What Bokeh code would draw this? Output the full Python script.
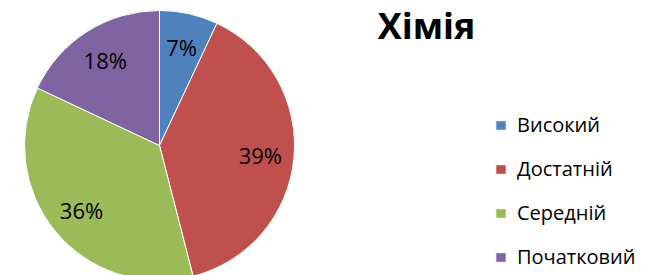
import math
from bokeh.plotting import figure
from bokeh.models import Range1d, Legend, LegendItem, ColumnDataSource
from bokeh.core.properties import value
from bokeh.embed import file_html
from bokeh.resources import INLINE

title = "Хімія"
categories = ["Високий", "Достатній", "Середній", "Початковий"]
values = [7, 39, 36, 18]
colors = ["#4F81BD", "#C0504D", "#9BBB59", "#8064A2"]

W, H = 656, 275
p = figure(width=W, height=H, output_backend="svg", toolbar_location=None,
           x_range=Range1d(0, W), y_range=Range1d(0, H), min_border=0)
p.axis.visible = False
p.grid.visible = False
p.outline_line_color = None

cx, cy, r = 159, 130, 135
total = sum(values)
starts, ends, lx, ly, labels = [], [], [], [], []
cum = 0.0
for v in values:
    a0 = math.pi / 2 - 2 * math.pi * cum / total
    cum += v
    a1 = math.pi / 2 - 2 * math.pi * cum / total
    starts.append(a0)
    ends.append(a1)
    mid = (a0 + a1) / 2
    lx.append(cx + 0.75 * r * math.cos(mid))
    ly.append(cy + 0.75 * r * math.sin(mid))
    labels.append(f"{round(100 * v / total)}%")

src = ColumnDataSource(dict(start=starts, end=ends, color=colors, cat=categories,
                            lx=lx, ly=ly, lab=labels))
wr = p.wedge(x=cx, y=cy, radius=r, start_angle="start", end_angle="end",
             direction="clock", fill_color="color", line_color="white",
             line_width=1, source=src)

p.text(x="lx", y="ly", text="lab", source=src, text_font=value("Open Sans"),
       text_font_size="22px", text_align="center", text_baseline="middle",
       text_color="black")

p.text(x=[426], y=[250], text=[title], text_font=value("Open Sans"),
       text_font_size="36px", text_font_style="bold", text_align="center",
       text_baseline="middle", text_color="black")

items = [LegendItem(label=c, renderers=[wr], index=i) for i, c in enumerate(categories)]
legend = Legend(items=items, location=(494, 5), glyph_width=13, glyph_height=12,
                label_height=27, spacing=17, padding=0, margin=0,
                label_standoff=10, label_text_font="Open Sans",
                label_text_font_size="20px", label_text_color="black",
                border_line_color=None, background_fill_alpha=0)
p.add_layout(legend, "center")

open("out.html", "w").write(file_html(p, INLINE))
